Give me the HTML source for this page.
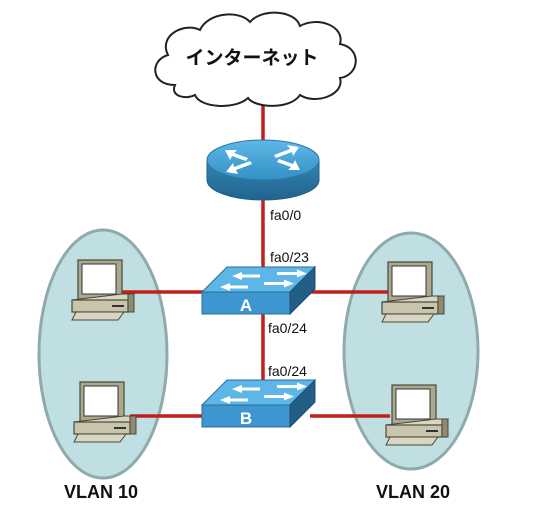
<!DOCTYPE html>
<html><head><meta charset="utf-8"><style>
html,body{margin:0;padding:0;background:#fff;width:552px;height:516px;overflow:hidden}
svg{display:block}
</style></head><body>
<svg width="552" height="516" viewBox="0 0 552 516" xmlns="http://www.w3.org/2000/svg">
<defs>
<linearGradient id="rt" x1="0" y1="0" x2="0" y2="1"><stop offset="0" stop-color="#5fb8e6"/><stop offset="1" stop-color="#3491c6"/></linearGradient>
<linearGradient id="rs" x1="0" y1="0" x2="0" y2="1"><stop offset="0" stop-color="#3584b3"/><stop offset="1" stop-color="#20648e"/></linearGradient>
<g id="pc">
 <rect x="0" y="0" width="44" height="40" fill="#aba88e" stroke="#4a4838" stroke-width="1.2"/>
 <rect x="4" y="4" width="34" height="30" fill="#fff" stroke="#333" stroke-width="1"/>
 <path d="M-6 40 L50 40 L56 34 L44 34 Z" fill="#d8d5c2" stroke="#4a4838" stroke-width="1"/>
 <rect x="-6" y="40" width="56" height="12" fill="#c9c5ad" stroke="#4a4838" stroke-width="1.2"/>
 <rect x="50" y="34" width="6" height="18" fill="#8f8b72" stroke="#4a4838"/>
 <rect x="34" y="45" width="12" height="2" fill="#333"/>
 <path d="M-2 52 L46 52 L40 60 L-6 60 Z" fill="#d8d5c2" stroke="#4a4838" stroke-width="1"/>
</g>
<g id="sw">
 <path d="M0 25 L25 0 L113 0 L88 25 Z" fill="#5db6e6" stroke="#2a6f98"/>
 <rect x="0" y="25" width="88" height="22" fill="#3d96cf" stroke="#2a6f98"/>
 <path d="M88 25 L113 0 L113 22 L88 47 Z" fill="#235e86" stroke="#1d4f70"/>
 <g fill="#fff">
  <path d="M30 9 l10 -4 v2.5 h18 v3 h-18 v2.5z"/>
  <path d="M75 5 h20 v-2.5 l10 4 -10 4 v-2.5 h-20z"/>
  <path d="M18 20 l10 -4 v2.5 h18 v3 h-18 v2.5z"/>
  <path d="M62 15 h20 v-2.5 l10 4 -10 4 v-2.5 h-20z"/>
 </g>
</g>
</defs>
<ellipse cx="103" cy="354" rx="64" ry="124" fill="#c0dfe3" stroke="#8fa9ad" stroke-width="3"/>
<ellipse cx="411" cy="351" rx="67" ry="118" fill="#c0dfe3" stroke="#8fa9ad" stroke-width="3"/>
<g stroke="#c0201c" stroke-width="3.5">
 <line x1="263" y1="100" x2="263" y2="140"/>
 <line x1="263" y1="195" x2="263" y2="270"/>
 <line x1="263" y1="314" x2="263" y2="385"/>
 <line x1="122" y1="292" x2="205" y2="292"/>
 <line x1="310" y1="292" x2="388" y2="292"/>
 <line x1="130" y1="416" x2="205" y2="416"/>
 <line x1="310" y1="416" x2="390" y2="416"/>
</g>
<path d="M175 85 C150 85 150 60 168 55 C158 35 185 22 200 30 C208 12 240 10 250 22 C262 8 295 10 300 26 C318 16 345 26 340 44 C362 48 360 75 340 78 C345 95 315 105 300 95 C290 110 255 108 248 98 C235 110 200 108 195 95 C185 100 170 96 175 85 Z" fill="#fff" stroke="#222" stroke-width="2"/>
<text x="252" y="64" font-family="Liberation Sans, 'Noto Sans CJK JP', sans-serif" font-size="19" font-weight="bold" text-anchor="middle" fill="#111">インターネット</text>
<path d="M207 160 L207 180 A56 20 0 0 0 319 180 L319 160 Z" fill="url(#rs)" stroke="#1f5f86"/>
<ellipse cx="263" cy="160" rx="56" ry="20" fill="url(#rt)" stroke="#2a78a8"/>
<g fill="#fff">
 <path d="M225 150 l12 0 -3 3 14 5 -2 3 -14 -5 -2 4z"/>
 <path d="M299 147 l-12 -2 3 4 -16 6 2 3 16 -6 1 4z"/>
 <path d="M226 172 l12 2 -2 -4 16 -6 -2 -3 -16 6 -1 -4z"/>
 <path d="M300 170 l-12 0 3 -3 -14 -5 2 -3 14 5 2 -4z"/>
</g>
<use href="#sw" x="202" y="267"/>
<use href="#sw" x="202" y="380"/>
<text x="246" y="311" font-family="Liberation Sans, sans-serif" font-size="17" font-weight="bold" fill="#fff" text-anchor="middle">A</text>
<text x="246" y="424" font-family="Liberation Sans, sans-serif" font-size="17" font-weight="bold" fill="#fff" text-anchor="middle">B</text>
<g font-family="Liberation Sans, sans-serif" font-size="14" fill="#111">
 <text x="270" y="220">fa0/0</text>
 <text x="270" y="262">fa0/23</text>
 <text x="268" y="333">fa0/24</text>
 <text x="268" y="376">fa0/24</text>
</g>
<use href="#pc" x="78" y="260"/>
<use href="#pc" x="80" y="382"/>
<use href="#pc" x="388" y="262"/>
<use href="#pc" x="392" y="385"/>
<g font-family="Liberation Sans, sans-serif" font-size="18" font-weight="bold" fill="#111" text-anchor="middle">
 <text x="101" y="498">VLAN 10</text>
 <text x="413" y="498">VLAN 20</text>
</g>
</svg>
</body></html>
